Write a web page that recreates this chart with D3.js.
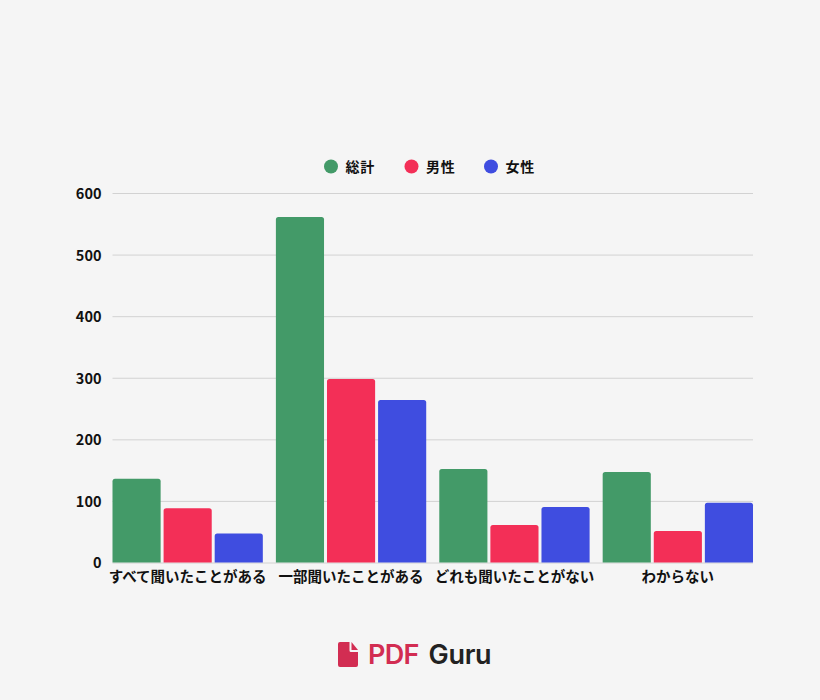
<!DOCTYPE html>
<html lang="ja">
<head>
<meta charset="utf-8">
<script src="https://cdn.jsdelivr.net/npm/d3@7"></script>
<style>
html,body{margin:0;padding:0;background:#f5f5f5;}
svg{display:block;}
text{font-family:"Noto Sans CJK JP","Noto Sans",sans-serif;font-weight:700;fill:#111;}
</style>
</head>
<body>
<svg id="chart" width="820" height="700"></svg>
<script>
const categories = ["すべて聞いたことがある","一部聞いたことがある","どれも聞いたことがない","わからない"];
const seriesNames = ["総計","男性","女性"];
const seriesColors = ["#439a68","#f32f57","#3f4de0"];
const totalValues = [136,561,152,147];
const maleValues = [88,298,61,51];
const femaleValues = [47,264,90,97];
const yTicks = [0,100,200,300,400,500,600];
const seriesValues = [totalValues,maleValues,femaleValues];

const svg = d3.select("#chart");
const plot = {left:112.5,right:753,top:193,bottom:562.5};

const x0 = d3.scaleBand().domain(categories).range([plot.left,plot.right]).paddingInner(0.08).paddingOuter(0);
const x1 = d3.scaleBand().domain(seriesNames).range([0,x0.bandwidth()]).paddingInner(0.058).paddingOuter(0);
const y = d3.scaleLinear().domain([0,600]).range([plot.bottom,plot.top]);

// Horizontal gridlines and value labels
const yAxis = svg.append("g").attr("transform",`translate(${plot.left},0)`)
  .call(d3.axisLeft(y).tickValues(yTicks).tickSize(-(plot.right-plot.left)).tickPadding(11));
yAxis.select(".domain").remove();
yAxis.selectAll("line").attr("stroke","#d2d2d2").attr("stroke-width",1);
yAxis.selectAll("text").attr("font-size",14.5).attr("y",0.8).attr("fill","#111").style("font-family",'"Noto Sans CJK JP",sans-serif').style("font-weight",700);

// Grouped bars with slightly rounded top corners
const barPath = (x,yTop,w,h,r) => {
  const rr = Math.min(r,h);
  const p = d3.path();
  p.moveTo(x,yTop+h);
  p.lineTo(x,yTop+rr);
  p.quadraticCurveTo(x,yTop,x+rr,yTop);
  p.lineTo(x+w-rr,yTop);
  p.quadraticCurveTo(x+w,yTop,x+w,yTop+rr);
  p.lineTo(x+w,yTop+h);
  p.closePath();
  return p.toString();
};
seriesNames.forEach((name,s)=>{
  svg.append("g").selectAll("path").data(seriesValues[s]).join("path")
    .attr("fill",seriesColors[s])
    .attr("d",(v,i)=>barPath(x0(categories[i])+x1(name),y(v),x1.bandwidth(),y(0)-y(v),2.5));
});

// Category labels under the groups
const xAxis = svg.append("g").attr("transform",`translate(0,${plot.bottom})`)
  .call(d3.axisBottom(x0).tickSize(0).tickPadding(9));
xAxis.select(".domain").remove();
xAxis.selectAll("text").attr("font-size",14.5).attr("fill","#111").style("font-family",'"Noto Sans CJK JP",sans-serif').style("font-weight",700);

// Legend
const legendX = [331,411.5,491];
const legendY = 166.5;
const legend = svg.append("g").selectAll("g").data(seriesNames).join("g")
  .attr("transform",(d,i)=>`translate(${legendX[i]},${legendY})`);
legend.append("circle").attr("r",7).attr("fill",(d,i)=>seriesColors[i]);
legend.append("text").attr("x",14.5).attr("dy","0.36em").attr("font-size",14).attr("letter-spacing",0.7).text(d=>d);

// Brand mark below the chart
const logo = svg.append("g");
logo.append("path").attr("fill","#d22d52")
  .attr("d","M340 642H349.5V650.5Q349.5 652 351 652H358V665Q358 667 356 667H340Q338 667 338 665V644Q338 642 340 642ZM351.5 642L358 650H351.5Z");
logo.append("text").attr("x",368).attr("y",664).attr("font-size",27).attr("letter-spacing",-0.7)
  .style("font-family","Inter,sans-serif").style("font-weight",600).style("fill","#d22d52").text("PDF");
logo.append("text").attr("x",428.5).attr("y",664).attr("font-size",27).attr("letter-spacing",-0.3)
  .style("font-family","Inter,sans-serif").style("font-weight",600).style("fill","#222").text("Guru");
</script>
</body>
</html>
